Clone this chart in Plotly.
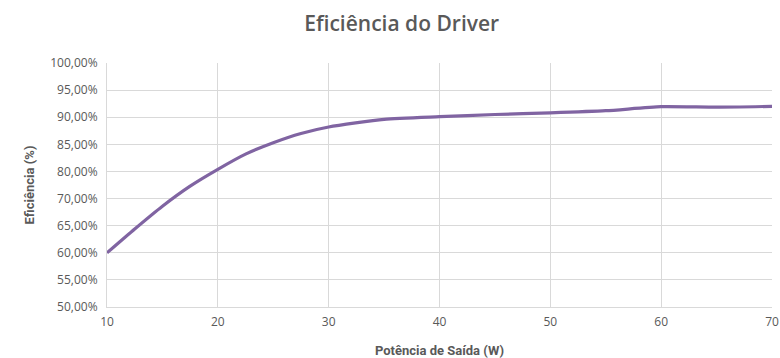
import numpy as np
import plotly.graph_objects as go

# Output power (W) and measured driver efficiency (%)
potencia_w = [10, 12.5, 15, 17.5, 20, 22.5, 25, 27.5, 30, 35, 40, 45, 50, 55, 60, 65, 70]
eficiencia_pct = [60.0, 64.4, 68.6, 74.6, 80.4, 83.2, 85.3, 87.0, 88.2, 89.6,
                  90.1, 90.5, 90.8, 91.2, 91.95, 91.85, 92.0]

# Efficiency axis ticks (evenly spaced on the axis, as labelled)
y_tick_values = [50, 55, 60, 65, 70, 80, 85, 90, 95, 100]
y_tick_labels = ["50,00%", "55,00%", "60,00%", "65,00%", "70,00%",
                 "80,00%", "85,00%", "90,00%", "95,00%", "100,00%"]
x_tick_values = [10, 20, 30, 40, 50, 60, 70]

# Efficiency axis scale: each labelled tick occupies one evenly spaced slot
y_slots = list(range(len(y_tick_values)))
y_plot = np.interp(eficiencia_pct, y_tick_values, y_slots)

GRAY_TEXT = "#595959"
GRID = "#d9d9d9"
FONT = "Open Sans, Lato, sans-serif"
BOLD = "Roboto, Open Sans, sans-serif"

fig = go.Figure()
fig.add_trace(go.Scatter(
    x=potencia_w,
    y=y_plot,
    mode="lines",
    line=dict(color="#8064a2", width=3.2, shape="spline", smoothing=0.6),
    customdata=eficiencia_pct,
    hovertemplate="%{x} W: %{customdata:.1f}%<extra></extra>",
    showlegend=False,
))

fig.update_layout(
    width=780,
    height=358,
    margin=dict(l=107, r=8, t=63, b=51, autoexpand=False),
    paper_bgcolor="white",
    plot_bgcolor="white",
    title=dict(
        text="Eficiência do Driver",
        x=0.515,
        xanchor="center",
        y=0.935,
        yanchor="middle",
        font=dict(family=FONT, size=21, weight=600, color=GRAY_TEXT),
    ),
    font=dict(family=FONT, size=12, color=GRAY_TEXT),
)

fig.update_xaxes(
    range=[10, 70],
    tickvals=x_tick_values,
    ticks="",
    automargin=False,
    ticklabelstandoff=4,
    showgrid=True,
    gridcolor=GRID,
    gridwidth=1,
    showline=True,
    linecolor=GRID,
    linewidth=1,
    zeroline=False,
    tickfont=dict(family=FONT, size=12, color=GRAY_TEXT),
    title=dict(
        text="<b>Potência de Saída (W)</b>",
        font=dict(family=BOLD, size=13, color=GRAY_TEXT),
        standoff=17,
    ),
)

fig.update_yaxes(
    range=[0, len(y_slots) - 1],
    tickvals=y_slots,
    ticktext=y_tick_labels,
    ticks="",
    automargin=False,
    ticklabelstandoff=6,
    showgrid=True,
    gridcolor=GRID,
    gridwidth=1,
    showline=True,
    linecolor=GRID,
    linewidth=1,
    zeroline=False,
    tickfont=dict(family=FONT, size=12, color=GRAY_TEXT),
    title=dict(
        text="<b>Eficiência (%)</b>",
        font=dict(family=BOLD, size=13, color=GRAY_TEXT),
        standoff=12,
    ),
)

fig.write_html("out.html")
